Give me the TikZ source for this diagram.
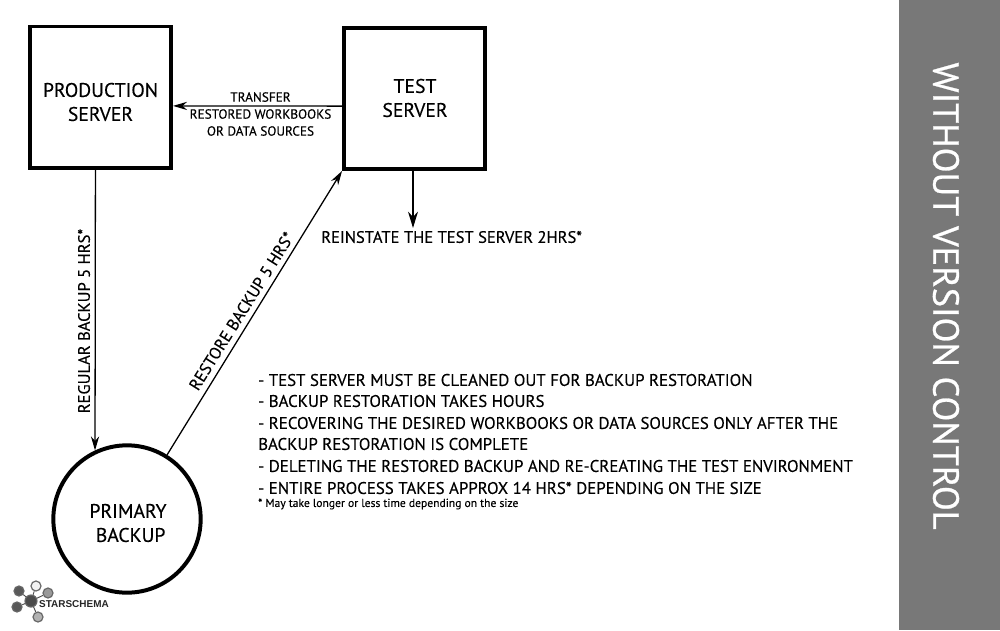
\documentclass[tikz,border=0pt]{standalone}
\usepackage{fontspec}
\setmainfont[FakeBold=0.25]{PT Sans}
\newfontfamily\logofont{Liberation Sans}
\newfontfamily\titlefont[FakeBold=0.7]{PT Sans}
\usetikzlibrary{positioning,arrows.meta}

\begin{document}
\begin{tikzpicture}[x=0.03cm, y=-0.03cm,
                    box/.style={draw=black, line width=3.4pt, minimum size=4.23cm, inner sep=0pt},
                    disc/.style={box, circle, minimum size=4.42cm},
                    boxlab/.style={inner sep=0pt, align=center, font=\fontsize{16.8}{20.5}\selectfont},
                    arr/.style={draw=black, line width=1.1pt, -{Stealth[length=12pt, width=7pt]}},
                    bigarr/.style={arr, -{Stealth[length=14pt, width=8.5pt]}},
                    lab/.style={inner sep=0pt, font=\fontsize{14.15}{16}\selectfont},
                    note/.style={lab, anchor=west, font=\fontsize{14.38}{16}\selectfont},
                    small/.style={inner sep=0pt, align=center, font=\fontsize{11.3}{14.5}\selectfont},
                    lnk/.style={draw=black!70, line width=0.8pt},
                    ball/.style={circle, draw=black!60, line width=1pt, minimum size=0.3cm, inner sep=0pt}]
  \useasboundingbox (0,0) rectangle (1000,630);
  \fill[white] (0,0) rectangle (1000,630);
  \fill[black!53] (899,0) rectangle (1000,630);
  \node[rotate=-90, inner sep=0pt, text=white, font=\titlefont\fontsize{31}{36}\selectfont] (title) at (946,296) {WITHOUT VERSION CONTROL};

  \node[box] (prod) at (100.5,97) {};
  \node[box] (test) at (414.5,98.5) {};
  \node[disc] (primary) at (127,519) {};
  \node[boxlab] (prodlab) at (100.5,102) {PRODUCTION\\SERVER};
  \node[boxlab] (testlab) at (415,98) {TEST\\SERVER};
  \node[boxlab] (primarylab) at (128,523) {PRIMARY\\\ BACKUP};

  \draw[arr] (test.186) -- (prod.-7);
  \draw[arr] (prod.266) -- (primary.115);
  \draw[arr] (primary.58) -- (test.south west);
  \coordinate (reinstate) at (413,228);
  \draw[bigarr] (test.south -| reinstate) -- (reinstate);

  \node[small] (transfer) at (260.5,114) {TRANSFER\\RESTORED WORKBOOKS\\OR DATA SOURCES};
  \node[lab, rotate=90] (regular) at (84,321) {REGULAR BACKUP 5 HRS*};
  \node[lab, rotate=58] (restore) at (241.5,311) {RESTORE BACKUP 5 HRS*};
  \node[lab, anchor=west] (again) at (321,237) {REINSTATE THE TEST SERVER 2HRS*};

  % notes
  \node[note] (n1) at (258,380) {- TEST SERVER MUST BE CLEANED OUT FOR BACKUP RESTORATION};
  \node[note] (n2) at (258,401) {- BACKUP RESTORATION TAKES HOURS};
  \node[note] (n3) at (258,423) {- RECOVERING THE DESIRED WORKBOOKS OR DATA SOURCES ONLY AFTER THE};
  \node[note] (n4) at (258,444) {BACKUP RESTORATION IS COMPLETE};
  \node[note] (n5) at (258,466) {- DELETING THE RESTORED BACKUP AND RE-CREATING THE TEST ENVIRONMENT};
  \node[note] (n6) at (258,488) {- ENTIRE PROCESS TAKES APPROX 14 HRS* DEPENDING ON THE SIZE};
  \node[inner sep=0pt, anchor=west, font=\fontsize{9.9}{11}\selectfont] (n7) at (258,504) {* May take longer or less time depending on the size};

  % logo
  \node[ball, fill=black!70, minimum size=0.36cm] (hub) at (31,601) {};
  \node[ball, fill=black!5] (b1) at (36,586) {};
  \node[ball, fill=black!40] (b2) at (48,593) {};
  \node[ball, fill=black!65] (b3) at (19,591) {};
  \node[ball, fill=black!65] (b4) at (17,607) {};
  \node[ball, fill=black!30] (b5) at (38,617) {};
  \foreach \b in {b1,b2,b3,b4,b5} \draw[lnk] (hub) -- (\b);
  \node[inner sep=0pt, anchor=west, font=\logofont\bfseries\fontsize{8.5}{10}\selectfont, text=black!85] (logo) at (39,604) {STARSCHEMA};
\end{tikzpicture}
\end{document}
